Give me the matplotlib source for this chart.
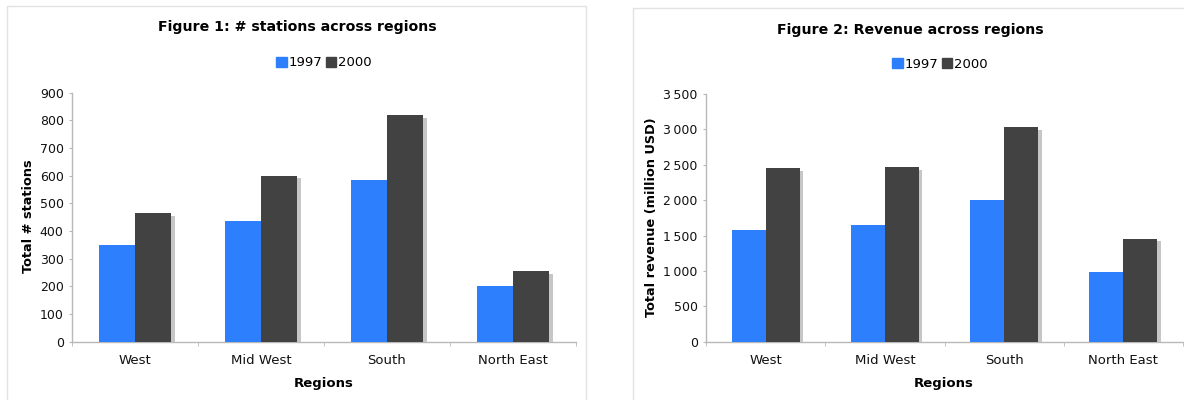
import matplotlib
matplotlib.use("Agg")
import matplotlib.pyplot as plt
import matplotlib.patheffects as pe
from matplotlib.patches import Rectangle
from matplotlib.ticker import FuncFormatter
import numpy as np

regions = ["West", "Mid West", "South", "North East"]
years = ["1997", "2000"]
stations_1997 = [350, 435, 585, 202]
stations_2000 = [465, 600, 818, 254]
revenue_1997 = [1585, 1656, 2002, 985]
revenue_2000 = [2457, 2462, 3033, 1458]

BLUE = "#2d7ffd"
DARK = "#424242"
AXC = "#b8b8b8"

plt.rcParams['font.family'] = ['DejaVu Sans']
fig = plt.figure(figsize=(11.84, 4.0), dpi=100)
W, H = 1184, 400

def fx(px):
    return px / W

def fy(py):
    return 1 - py / H

# panel borders
fig.patches.append(Rectangle((fx(7), fy(410)), fx(586) - fx(7), fy(6) - fy(410),
                             transform=fig.transFigure, fill=False, ec="#e2e2e2", lw=1))
fig.patches.append(Rectangle((fx(633), fy(410)), fx(1200) - fx(633), fy(8) - fy(410),
                             transform=fig.transFigure, fill=False, ec="#e2e2e2", lw=1))

def draw(ax_rect, v1, v2, ymax, step, ylabel, ylab_xy, xlab_xy, title, title_xy, leg_xy, fmt):
    ax = fig.add_axes(ax_rect)
    x = np.arange(len(regions))
    bw = 0.286
    shadow = [pe.SimplePatchShadow(offset=(2.5, -2.0), shadow_rgbFace="#c6c6c6", alpha=1.0), pe.Normal()]
    ax.bar(x - bw / 2, v1, bw, color=BLUE, zorder=3)
    b2 = ax.bar(x + bw / 2, v2, bw, color=DARK, zorder=3)
    for r in b2:
        r.set_path_effects(shadow)
    ax.set_xlim(-0.5, len(regions) - 0.5)
    ax.set_ylim(0, ymax)
    ax.set_yticks(np.arange(0, ymax + 1, step))
    ax.yaxis.set_major_formatter(FuncFormatter(fmt))
    ax.set_xticks(x)
    ax.set_xticklabels(regions)
    ax.set_xticks(np.arange(-0.5, len(regions)), minor=True)
    ax.tick_params(axis='x', which='major', length=0, pad=9, labelsize=9.5, colors="#111111")
    ax.tick_params(axis='x', which='minor', length=3, color=AXC, direction='out')
    ax.tick_params(axis='y', which='major', length=2.5, color=AXC, direction='out', pad=3.5,
                   labelsize=9, labelcolor="#111111")
    for s in ["top", "right"]:
        ax.spines[s].set_visible(False)
    for s in ["left", "bottom"]:
        ax.spines[s].set_color(AXC)
        ax.spines[s].set_linewidth(1.0)
    fig.text(fx(xlab_xy[0]), fy(xlab_xy[1]), "Regions", ha="center", va="center",
             fontweight="bold", fontsize=9.5)
    fig.text(fx(ylab_xy[0]), fy(ylab_xy[1]), ylabel, ha="center", va="center",
             rotation=90, fontweight="bold", fontsize=9.3)
    fig.text(fx(title_xy[0]), fy(title_xy[1]), title, ha="center", va="center",
             fontweight="bold", fontsize=10.2)
    handles = [Rectangle((0, 0), 1, 1, color=BLUE), Rectangle((0, 0), 1, 1, color=DARK)]
    fig.legend(handles=handles, labels=years, loc="center", ncol=2,
               bbox_to_anchor=(fx(leg_xy[0]), fy(leg_xy[1])), frameon=False,
               handlelength=0.8, handleheight=0.8, handletextpad=0.15,
               columnspacing=0.25, fontsize=9.5, borderpad=0)
    return ax

def f1(v, p):
    return f"{int(v)}"

def f2(v, p):
    return f"{int(v):,}".replace(",", "\u2009")

draw([fx(72), fy(341.7), fx(576) - fx(72), fy(92.7) - fy(341.7)],
     stations_1997, stations_2000, 900, 100, "Total # stations", (29, 216), (324, 383),
     "Figure 1: # stations across regions", (297, 27), (324, 63), f1)
draw([fx(706), fy(341.7), fx(1183) - fx(706), fy(94) - fy(341.7)],
     revenue_1997, revenue_2000, 3500, 500, "Total revenue (million USD)", (652, 217), (944, 383),
     "Figure 2: Revenue across regions", (910, 30), (940, 64), f2)

fig.savefig("out.png", dpi=100)
